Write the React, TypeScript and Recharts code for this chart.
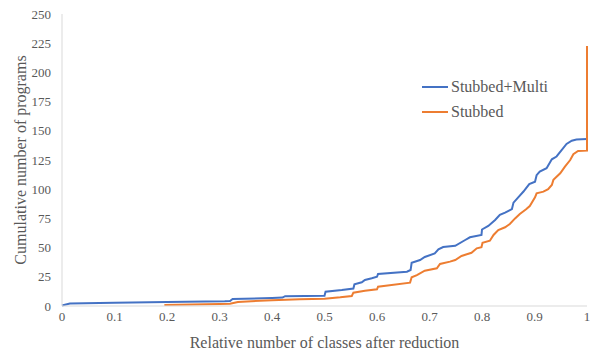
import { LineChart, Line, XAxis, YAxis } from "recharts";

// reduction ratio -> cumulative program count, one array per series
const stubbedMultiX = [
  0, 0.015, 0.1, 0.2, 0.31, 0.32, 0.325, 0.4, 0.42, 0.425, 0.5, 0.502, 0.533,
  0.555, 0.557, 0.571, 0.577, 0.59, 0.6, 0.602, 0.657, 0.664, 0.666, 0.682,
  0.691, 0.71, 0.717, 0.726, 0.749, 0.768, 0.777, 0.799, 0.8, 0.812, 0.825,
  0.834, 0.844, 0.857, 0.86, 0.869, 0.879, 0.89, 0.901, 0.904, 0.91, 0.923,
  0.933, 0.942, 0.952, 0.961, 0.971, 0.98, 1,
];
const stubbedMultiY = [
  0.5, 2.2, 2.8, 3.4, 4.1, 4.3, 6, 6.8, 7.2, 8.4, 8.8, 12.2, 13.7, 15, 18.5,
  20.3, 22.3, 23.7, 25, 27.4, 29.4, 30.8, 37, 39.4, 42, 45, 48.5, 50.5, 51.5,
  56.5, 58.8, 60.8, 65.5, 68.5, 73.6, 78, 80, 83, 88.5, 93, 98, 104.4, 106.4,
  112, 115, 118, 125.6, 128, 133.6, 138.7, 141.5, 142.5, 143,
];

const stubbedX = [
  0.195, 0.3, 0.32, 0.335, 0.4, 0.453, 0.5, 0.53, 0.552, 0.555, 0.577, 0.6,
  0.602, 0.663, 0.666, 0.676, 0.691, 0.714, 0.72, 0.739, 0.749, 0.761, 0.78,
  0.79, 0.799, 0.801, 0.815, 0.822, 0.831, 0.844, 0.853, 0.863, 0.872, 0.884,
  0.891, 0.901, 0.904, 0.917, 0.926, 0.933, 0.936, 0.949, 0.958, 0.968, 0.974,
  0.983, 1, 1,
];
const stubbedY = [
  0.8, 1.7, 2, 3.5, 5, 5.7, 6.2, 7.4, 8.6, 11.4, 13.1, 14.3, 16.5, 20, 24.6,
  26.5, 30.2, 32.3, 36, 38, 39.4, 42.8, 45.6, 49.4, 50.3, 54.2, 55.9, 60.8, 65,
  67.4, 70.2, 75, 78.8, 82.8, 85.6, 93, 96.5, 97.9, 100, 103.6, 108, 113.6,
  119.3, 125, 130, 132.7, 133, 222.5,
];

const xTicks = [0, 0.1, 0.2, 0.3, 0.4, 0.5, 0.6, 0.7, 0.8, 0.9, 1];
const yTicks = [0, 25, 50, 75, 100, 125, 150, 175, 200, 225, 250];

const series = [
  { name: "Stubbed+Multi", color: "#4472C4", xs: stubbedMultiX, ys: stubbedMultiY },
  { name: "Stubbed", color: "#ED7D31", xs: stubbedX, ys: stubbedY },
];

const FONT = "Liberation Serif, Times New Roman, serif";
const TEXT = "#595959";
const AXIS = "#d9d9d9";

const toPoints = (xs: number[], ys: number[]) =>
  xs.map((x, i) => ({ x, y: ys[i] }));

// explicit tick text so the serif face is used on the axes too
function XTick({ x, y, payload }: any) {
  return (
    <text
      x={x}
      y={y + 12}
      textAnchor="middle"
      fontFamily={FONT}
      fontSize={13}
      fill={TEXT}
    >
      {payload.value}
    </text>
  );
}

function YTick({ x, y, payload }: any) {
  return (
    <text
      x={x}
      y={y + 4.5}
      textAnchor="end"
      fontFamily={FONT}
      fontSize={13}
      fill={TEXT}
    >
      {payload.value}
    </text>
  );
}

function LegendBox() {
  return (
    <div
      style={{
        position: "absolute",
        left: 422,
        top: 74,
        fontFamily: FONT,
        fontSize: 16,
        color: TEXT,
      }}
    >
      {series.map((s) => (
        <div
          key={s.name}
          style={{ display: "flex", alignItems: "center", height: 25 }}
        >
          <span
            style={{
              display: "inline-block",
              width: 26,
              height: 2,
              background: s.color,
              marginRight: 3,
            }}
          />
          {s.name}
        </div>
      ))}
    </div>
  );
}

export default function App() {
  return (
    <div
      style={{
        position: "absolute",
        left: 0,
        top: 0,
        width: 594,
        height: 356,
        background: "#fff",
        fontFamily: FONT,
      }}
    >
      <LineChart
        width={594}
        height={356}
        margin={{ top: 14, right: 7, left: 0, bottom: 0 }}
        style={{ fontFamily: FONT }}
      >
        <XAxis
          type="number"
          dataKey="x"
          domain={[0, 1]}
          ticks={xTicks}
          height={50}
          stroke={AXIS}
          tickLine={false}
          tickSize={0}
          tickMargin={3}
          tick={<XTick />}
          label={{
            value: "Relative number of classes after reduction",
            position: "insideBottom",
            offset: 8,
            fill: TEXT,
            fontSize: 16,
            fontFamily: FONT,
          }}
        />
        <YAxis
          type="number"
          domain={[0, 250]}
          ticks={yTicks}
          width={62}
          stroke={AXIS}
          tickLine={false}
          tickSize={0}
          tickMargin={11}
          tick={<YTick />}
          label={{
            value: "Cumulative number of programs",
            angle: -90,
            position: "center",
            dx: -11,
            fill: TEXT,
            fontSize: 16,
            fontFamily: FONT,
          }}
        />
        {series.map((s) => (
          <Line
            key={s.name}
            name={s.name}
            data={toPoints(s.xs, s.ys)}
            dataKey="y"
            type="linear"
            stroke={s.color}
            strokeWidth={2}
            dot={false}
            activeDot={false}
            isAnimationActive={false}
          />
        ))}
      </LineChart>
      <LegendBox />
    </div>
  );
}
